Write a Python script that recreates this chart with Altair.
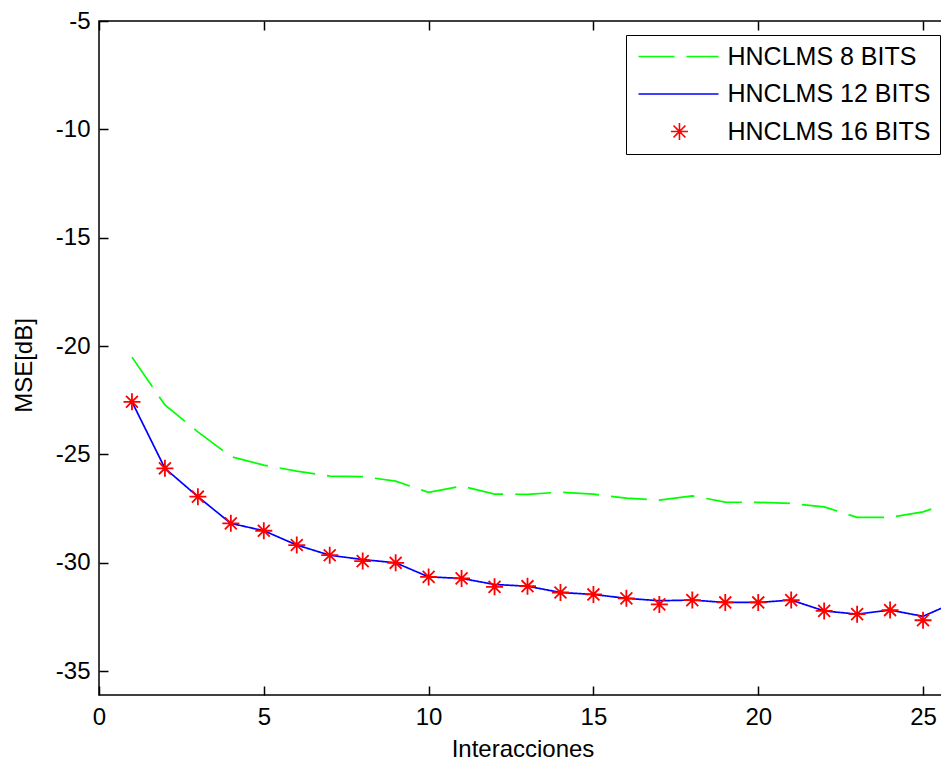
import altair as alt
import pandas as pd

series_names = ["HNCLMS 8 BITS", "HNCLMS 12 BITS", "HNCLMS 16 BITS"]

iters = list(range(1, 27))
mse_8 = [-20.51, -22.72, -23.96, -25.10, -25.49, -25.77, -26.00, -26.02, -26.23, -26.75,
         -26.46, -26.83, -26.84, -26.74, -26.83, -27.02, -27.11, -26.91, -27.20, -27.21,
         -27.26, -27.42, -27.90, -27.90, -27.65, -27.14]
mse_12 = [-22.57, -25.64, -26.95, -28.18, -28.52, -29.18, -29.65, -29.85, -30.00, -30.65,
          -30.72, -31.00, -31.08, -31.37, -31.46, -31.64, -31.75, -31.72, -31.83, -31.83,
          -31.72, -32.22, -32.37, -32.18, -32.47, -31.80]
iters_16 = list(range(1, 26))
mse_16 = [-22.57, -25.64, -26.95, -28.18, -28.52, -29.18, -29.65, -29.92, -30.00, -30.65,
          -30.72, -31.11, -31.08, -31.37, -31.46, -31.64, -31.92, -31.72, -31.83, -31.83,
          -31.72, -32.22, -32.37, -32.18, -32.65]

x_ticks = [0, 5, 10, 15, 20, 25]
y_ticks = [-35, -30, -25, -20, -15, -10, -5]

lines_df = pd.DataFrame({
    "iter": iters + iters,
    "mse": mse_8 + mse_12,
    "series": [series_names[0]] * len(iters) + [series_names[1]] * len(iters),
})
pts_df = pd.DataFrame({
    "iter": iters_16,
    "mse": mse_16,
    "series": [series_names[2]] * len(iters_16),
})

FONT = "Liberation Sans"
# legend symbol paths (units of 8.5 px); the star is drawn shifted right so that
# it sits under the legend lines, and the plotted points are shifted back by xOffset
STAR_SHIFT = 3.76
line_path = "M-1.06,0L8.35,0"
s = STAR_SHIFT
star_path = (f"M{s-1:.2f},0L{s+1:.2f},0M{s:.2f},-1L{s:.2f},1"
             f"M{s-0.7:.2f},-0.7L{s+0.7:.2f},0.7M{s-0.7:.2f},0.7L{s+0.7:.2f},-0.7")

x_scale = alt.Scale(domain=[0, 26], nice=False, zero=False)
y_scale = alt.Scale(domain=[-36.1, -5], nice=False, zero=False)
color_scale = alt.Scale(domain=series_names, range=["#00ff00", "#0000ff", "#ff0000"])
dash_scale = alt.Scale(domain=series_names, range=[[36, 12], [1, 0], [1, 0]])
shape_scale = alt.Scale(domain=series_names, range=[line_path, line_path, star_path])

legend = alt.Legend(
    title=None, orient="none", legendX=527, legendY=14, direction="vertical",
    fillColor="white", strokeColor="black", padding=9, cornerRadius=0,
    labelFont=FONT, labelFontSize=25, labelColor="black", labelOffset=67.5,
    labelLimit=400, symbolSize=289, symbolStrokeWidth=1.6, rowPadding=11.5,
)

lbl = "'' + datum.value"

lines = alt.Chart(lines_df).mark_line(strokeWidth=1.7).encode(
    x=alt.X("iter:Q", scale=x_scale,
            axis=alt.Axis(orient="bottom", values=x_ticks, title="Interacciones",
                          offset=-9, tickSize=9, domain=False, labelPadding=10,
                          labelFlush=False, titlePadding=8, titleX=423.5,
                          labelExpr=lbl)),
    y=alt.Y("mse:Q", scale=y_scale,
            axis=alt.Axis(orient="left", values=y_ticks, title="MSE[dB]",
                          offset=-9, tickSize=9, domain=False, labelPadding=9,
                          labelFlush=False, titlePadding=19, titleY=344,
                          labelExpr=lbl)),
    color=alt.Color("series:N", scale=color_scale, legend=legend),
    strokeDash=alt.StrokeDash("series:N", scale=dash_scale, legend=legend),
    detail="series:N",
)

points = alt.Chart(pts_df).mark_point(
    filled=False, size=289, strokeWidth=1.8, opacity=1, xOffset=-STAR_SHIFT * 8.5
).encode(
    x=alt.X("iter:Q", scale=x_scale,
            axis=alt.Axis(orient="top", values=x_ticks, title=None, labels=False,
                          offset=-9, tickSize=9, domain=False)),
    y=alt.Y("mse:Q", scale=y_scale,
            axis=alt.Axis(orient="right", values=y_ticks, title=None, labels=False,
                          offset=-9, tickSize=9, domain=False)),
    color=alt.Color("series:N", scale=color_scale, legend=legend),
    shape=alt.Shape("series:N", scale=shape_scale, legend=legend),
)

chart = (
    alt.layer(lines, points)
    .resolve_axis(x="independent", y="independent")
    .properties(
        width=857, height=674,
        autosize=alt.AutoSizeParams(type="none"),
        padding={"left": 91, "top": 13, "right": -15, "bottom": 62},
        background="white",
    )
    .configure_view(stroke="#000000", strokeWidth=1.5)
    .configure_axis(
        grid=False, labelFont=FONT, labelFontSize=24, labelColor="black",
        titleFont=FONT, titleFontSize=24, titleFontWeight="normal", titleColor="black",
        tickColor="black", tickWidth=1.5,
    )
)

chart.save("out.html", embed_options={"renderer": "svg", "actions": False})
